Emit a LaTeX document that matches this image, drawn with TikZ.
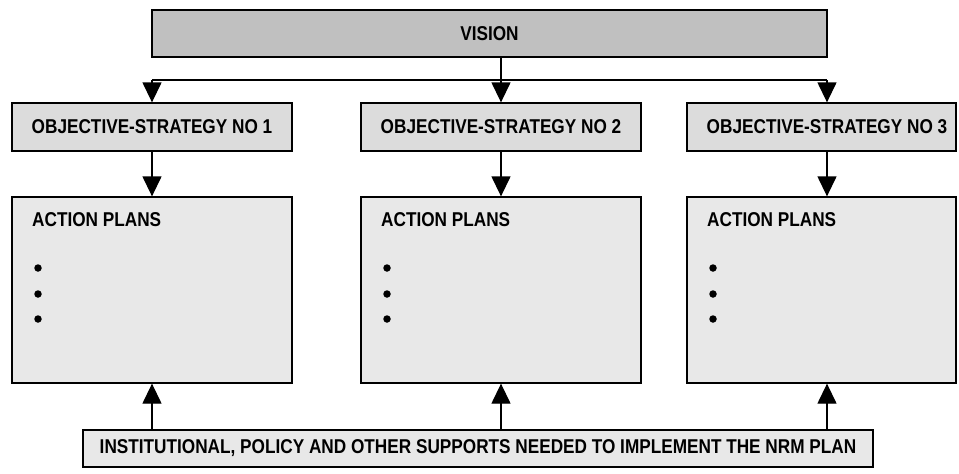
\documentclass[tikz,border=0pt]{standalone}
\usepackage{fontspec}
\setmainfont{Liberation Sans}[FakeStretch=0.86]
\usetikzlibrary{arrows.meta}
\definecolor{visfill}{HTML}{C0C0C0}
\definecolor{objfill}{HTML}{DCDCDC}
\definecolor{actfill}{HTML}{E8E8E8}
\tikzset{
  box/.style={draw=black, line width=1.3pt, rectangle, inner sep=0pt, font=\fontsize{20}{22}\selectfont\bfseries},
  visbox/.style={box, fill=visfill, minimum width=675pt, minimum height=47pt},
  objbox/.style={box, fill=objfill, minimum height=48pt},
  actbox/.style={box, fill=actfill, minimum height=186pt},
  supbox/.style={box, fill=actfill, minimum width=790pt, minimum height=37pt},
  lbl/.style={inner sep=0pt, font=\fontsize{20}{22}\selectfont\bfseries},
  bul/.style={circle, fill=black, inner sep=0pt, minimum size=7.5pt},
  conn/.style={line width=1.3pt},
  arr/.style={line width=1.3pt, -{Triangle[length=20pt,width=19pt]}}
}
\begin{document}
\begin{tikzpicture}[x=1pt,y=-1pt]
\useasboundingbox (0,0) rectangle (959,474);
% boxes
\node[visbox] (vision) at (489.5,33.5) {VISION};
\node[objbox, minimum width=280pt] (obj1) at (152,127) {OBJECTIVE-STRATEGY NO 1};
\node[objbox, minimum width=280pt] (obj2) at (501,127) {OBJECTIVE-STRATEGY NO 2};
\node[objbox, minimum width=269pt] (obj3) at (821.5,127) {};
\node[lbl] (obj3t) at (827,127) {OBJECTIVE-STRATEGY NO 3};
\node[actbox, minimum width=280pt] (act1) at (152,290) {};
\node[actbox, minimum width=280pt] (act2) at (501,290) {};
\node[actbox, minimum width=269pt] (act3) at (821.5,290) {};
\node[supbox] (sup) at (478,448.5) {INSTITUTIONAL, POLICY AND OTHER SUPPORTS NEEDED TO IMPLEMENT THE NRM PLAN};
% action plan texts
\foreach \n/\x in {1/32, 2/381, 3/707}{
  \node[lbl, anchor=base west] (ap\n) at (\x,226) {ACTION PLANS};
  \node[bul] (b\n a) at (\x+6,268) {};
  \node[bul] (b\n b) at (\x+6,294) {};
  \node[bul] (b\n c) at (\x+6,319) {};
}
% connectors
\coordinate (hl) at (152,80);
\coordinate (hr) at (827,80);
\coordinate (hm) at (501,80);
\draw[conn] (vision.south -| hm) -- (hm);
\draw[conn] (hl) -- (hr);
\draw[arr] (hl) -- (hl |- obj1.north);
\draw[arr] (hm) -- (hm |- obj2.north);
\draw[arr] (hr) -- (hr |- obj3.north);
\draw[arr] (obj1.south) -- (act1.north);
\draw[arr] (obj2.south) -- (act2.north);
\draw[arr] (obj3.south -| hr) -- (act3.north -| hr);
\draw[arr] (sup.north -| act1.south) -- (act1.south);
\draw[arr] (sup.north -| act2.south) -- (act2.south);
\draw[arr] (sup.north -| hr) -- (act3.south -| hr);
\end{tikzpicture}
\end{document}
